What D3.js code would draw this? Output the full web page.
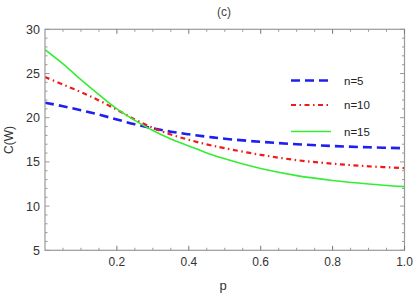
<!DOCTYPE html>
<html><head><meta charset="utf-8">
<script src="https://cdn.jsdelivr.net/npm/d3@7"></script>
<style>body{margin:0;background:#fff}svg{display:block;font-family:"Liberation Sans",Arial,sans-serif}</style>
</head><body>
<svg id="c" width="415" height="295"></svg>
<script>
const pValues = [0,0.05,0.1,0.15,0.2,0.25,0.3,0.35,0.4,0.45,0.5,0.6,0.7,0.8,0.9,1.0];
const n5  = [21.7,21.3,20.85,20.35,19.8,19.25,18.8,18.42,18.12,17.85,17.62,17.27,17.0,16.8,16.65,16.55];
const n10 = [24.6,23.75,22.9,21.95,20.9,19.8,18.85,18.1,17.5,16.98,16.55,15.8,15.2,14.8,14.5,14.3];
const n15 = [27.7,26.1,24.3,22.6,21.0,19.7,18.55,17.6,16.8,16.02,15.35,14.25,13.45,12.9,12.5,12.2];
const seriesNames = ["n=5","n=10","n=15"];
const xTicks = [0.2,0.4,0.6,0.8,1.0];
const yTicks = [5,10,15,20,25,30];

const svg = d3.select("#c");
const L=45,R=404.5,T=29.3,B=250.3;
const x = d3.scaleLinear().domain([0,1]).range([L,R]);
const y = d3.scaleLinear().domain([5,30]).range([B,T]);
const frame="#9a9a9a";

const series=[
 {name:seriesNames[0],vals:n5,color:"#1f1ff0",width:2.6,dash:"9,5"},
 {name:seriesNames[1],vals:n10,color:"#f01a1a",width:2.2,dash:"5,3.5,1.5,3.5"},
 {name:seriesNames[2],vals:n15,color:"#33ee33",width:1.6,dash:null}
];
const g=svg.append("g");
g.append("defs").append("clipPath").attr("id","clip").append("rect")
 .attr("x",L).attr("y",T).attr("width",R-L).attr("height",B-T);
const line=d3.line().x((d,i)=>x(pValues[i])).y(d=>y(d)).curve(d3.curveCatmullRom.alpha(0.5));
series.forEach(s=>{
  g.append("path").attr("d",line(s.vals)).attr("fill","none")
   .attr("stroke",s.color).attr("stroke-width",s.width)
   .attr("stroke-dasharray",s.dash).attr("clip-path","url(#clip)");
});

// frame
svg.append("rect").attr("x",L).attr("y",T).attr("width",R-L).attr("height",B-T)
  .attr("fill","none").attr("stroke",frame).attr("stroke-width",1.2);

// minor ticks
const xMinor=d3.range(0.05,1.0,0.05).map(v=>+v.toFixed(2)).filter(v=>!xTicks.includes(v));
const yMinor=d3.range(6,30,1).filter(v=>v%5!==0);
const tk=svg.append("g").attr("stroke",frame).attr("stroke-width",1);
xMinor.forEach(v=>{
  tk.append("line").attr("x1",x(v)).attr("x2",x(v)).attr("y1",B).attr("y2",B-2.5);
  tk.append("line").attr("x1",x(v)).attr("x2",x(v)).attr("y1",T).attr("y2",T+2.5);
});
xTicks.forEach(v=>{
  tk.append("line").attr("x1",x(v)).attr("x2",x(v)).attr("y1",B).attr("y2",B-4.5).attr("stroke","#777");
  tk.append("line").attr("x1",x(v)).attr("x2",x(v)).attr("y1",T).attr("y2",T+4.5).attr("stroke","#777");
});
yMinor.forEach(v=>{
  tk.append("line").attr("x1",L).attr("x2",L+2.5).attr("y1",y(v)).attr("y2",y(v));
  tk.append("line").attr("x1",R).attr("x2",R-2.5).attr("y1",y(v)).attr("y2",y(v));
});
yTicks.forEach(v=>{
  tk.append("line").attr("x1",L).attr("x2",L+4.5).attr("y1",y(v)).attr("y2",y(v));
  tk.append("line").attr("x1",R).attr("x2",R-4.5).attr("y1",y(v)).attr("y2",y(v));
});

// tick labels
const txt="#333";
xTicks.forEach(v=>{
  svg.append("text").attr("x",x(v)).attr("y",B+16).attr("text-anchor","middle")
   .attr("font-size",12).attr("fill",txt).text(d3.format(".1f")(v));
});
yTicks.forEach(v=>{
  svg.append("text").attr("x",L-5).attr("y",y(v)+4.5).attr("text-anchor","end")
   .attr("font-size",12.5).attr("fill",txt).text(v);
});
// titles
svg.append("text").attr("x",224).attr("y",16).attr("text-anchor","middle")
  .attr("font-size",12).attr("fill","#444").text("(c)");
svg.append("text").attr("x",223).attr("y",290).attr("text-anchor","middle")
  .attr("font-size",13).attr("fill","#333").text("p");
svg.append("text").attr("transform","translate(13,140) rotate(-90)").attr("text-anchor","middle")
  .attr("font-size",12).attr("fill","#333").text("C(W)");

// legend
const legY=[80.5,105,131.5];
series.forEach((s,i)=>{
  svg.append("line").attr("x1",291).attr("x2",331).attr("y1",legY[i]).attr("y2",legY[i])
   .attr("stroke",s.color).attr("stroke-width",s.width).attr("stroke-dasharray",s.dash);
  svg.append("text").attr("x",344).attr("y",legY[i]+4).attr("font-size",11.5)
   .attr("fill","#222").text(s.name);
});
</script>
</body></html>
